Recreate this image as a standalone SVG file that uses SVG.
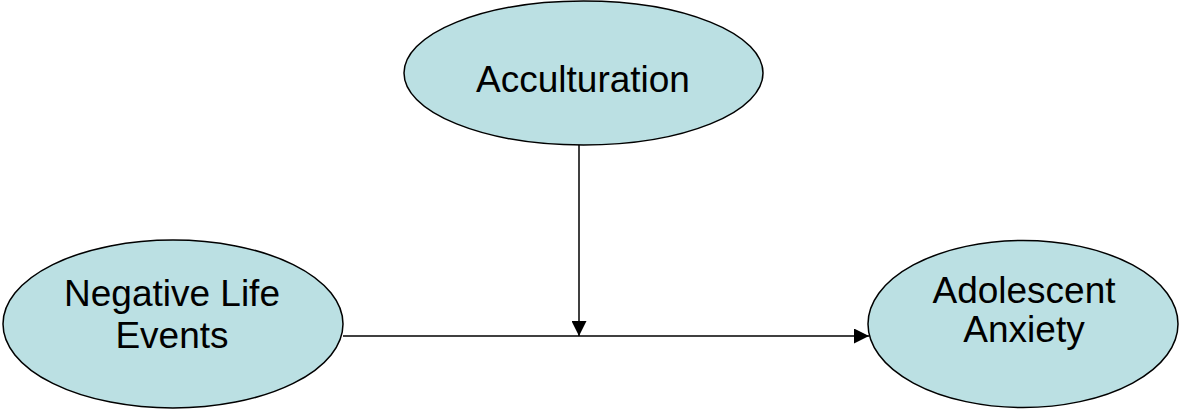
<svg xmlns="http://www.w3.org/2000/svg" width="1180" height="409" viewBox="0 0 1180 409">
<defs>
<style>
.node{fill:#BBE0E3;stroke:#000;stroke-width:1.5}
.lbl{font-family:"Liberation Sans",Arial,sans-serif;font-size:37px;fill:#000;text-anchor:middle}
.edge{stroke:#000;stroke-width:1.5;fill:none}
</style>
<marker id="arr" viewBox="0 0 15 15" refX="15" refY="7.5" markerWidth="15" markerHeight="15" markerUnits="userSpaceOnUse" orient="auto">
<path d="M0,0 L15,7.5 L0,15 Z" fill="#000"/>
</marker>
</defs>
<rect width="1180" height="409" fill="#fff"/>
<g id="connectors">
<line class="edge" x1="343" y1="336" x2="869" y2="336" marker-end="url(#arr)"/>
<line class="edge" x1="579" y1="145" x2="579" y2="336" marker-end="url(#arr)"/>
</g>
<g id="acculturation">
<ellipse class="node" cx="583.5" cy="73" rx="179.5" ry="72"/>
<text class="lbl" x="583" y="92">Acculturation</text>
</g>
<g id="negative-life-events">
<ellipse class="node" cx="173" cy="324" rx="170" ry="84"/>
<text class="lbl" x="172" y="306">Negative Life</text>
<text class="lbl" x="172" y="348">Events</text>
</g>
<g id="adolescent-anxiety">
<ellipse class="node" cx="1023" cy="324" rx="155" ry="83.5"/>
<text class="lbl" x="1024" y="303">Adolescent</text>
<text class="lbl" x="1024" y="342">Anxiety</text>
</g>
</svg>
